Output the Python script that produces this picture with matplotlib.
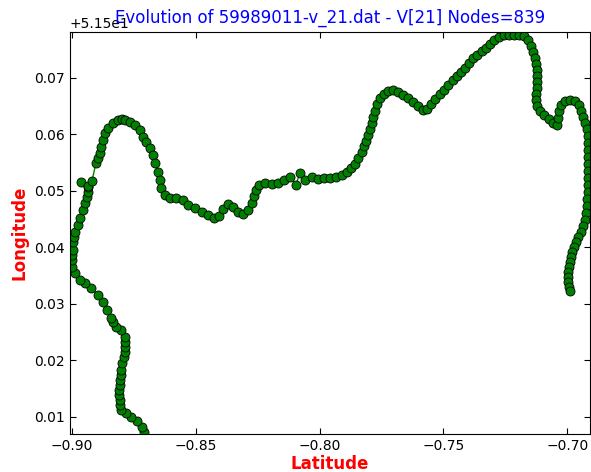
import matplotlib
matplotlib.use('Agg')
import matplotlib.pyplot as plt
from matplotlib.ticker import ScalarFormatter

# node positions of the trace (in path order)
lat = [
    -0.8710, -0.8718, -0.8738, -0.8763, -0.8783, -0.8803, -0.8807, -0.8807,
    -0.8811, -0.8811, -0.8807, -0.8807, -0.8803, -0.8803, -0.8799, -0.8791,
    -0.8787, -0.8787, -0.8787, -0.8787, -0.8803, -0.8823, -0.8835, -0.8844,
    -0.8860, -0.8876, -0.8896, -0.8924, -0.8949, -0.8969, -0.8989, -0.9001,
    -0.9001, -0.9001, -0.8997, -0.8997, -0.8993, -0.8989, -0.8977, -0.8969,
    -0.8957, -0.8949, -0.8941, -0.8937, -0.8937, -0.8965, -0.8937, -0.8920,
    -0.8904, -0.8896, -0.8888, -0.8884, -0.8876, -0.8868, -0.8856, -0.8835,
    -0.8815, -0.8799, -0.8787, -0.8767, -0.8747, -0.8726, -0.8714, -0.8702,
    -0.8686, -0.8674, -0.8666, -0.8654, -0.8646, -0.8641, -0.8625, -0.8605,
    -0.8581, -0.8553, -0.8532, -0.8504, -0.8476, -0.8452, -0.8427, -0.8407,
    -0.8391, -0.8371, -0.8350, -0.8330, -0.8310, -0.8290, -0.8274, -0.8266,
    -0.8258, -0.8245, -0.8221, -0.8193, -0.8169, -0.8144, -0.8120, -0.8096,
    -0.8080, -0.8059, -0.8031, -0.8007, -0.7983, -0.7958, -0.7934, -0.7910,
    -0.7890, -0.7874, -0.7857, -0.7845, -0.7829, -0.7821, -0.7813, -0.7805,
    -0.7797, -0.7789, -0.7785, -0.7777, -0.7768, -0.7756, -0.7740, -0.7724,
    -0.7704, -0.7684, -0.7663, -0.7643, -0.7623, -0.7603, -0.7582, -0.7566,
    -0.7550, -0.7534, -0.7514, -0.7498, -0.7481, -0.7461, -0.7445, -0.7429,
    -0.7413, -0.7397, -0.7380, -0.7364, -0.7344, -0.7328, -0.7312, -0.7296,
    -0.7275, -0.7255, -0.7235, -0.7215, -0.7194, -0.7174, -0.7158, -0.7146,
    -0.7138, -0.7130, -0.7126, -0.7122, -0.7122, -0.7122, -0.7122, -0.7126,
    -0.7126, -0.7122, -0.7110, -0.7093, -0.7073, -0.7057, -0.7041, -0.7037,
    -0.7033, -0.7025, -0.7008, -0.6988, -0.6968, -0.6952, -0.6944, -0.6936,
    -0.6928, -0.6920, -0.6916, -0.6916, -0.6916, -0.6916, -0.6916, -0.6916,
    -0.6916, -0.6916, -0.6916, -0.6920, -0.6920, -0.6924, -0.6928, -0.6936,
    -0.6944, -0.6956, -0.6964, -0.6972, -0.6980, -0.6984, -0.6988, -0.6992,
    -0.6996, -0.6996, -0.6996, -0.6992, -0.6988,
]
lon = [
    51.50729, 51.50818, 51.50924, 51.50995, 51.51065, 51.51119, 51.51207, 51.51296,
    51.51384, 51.51473, 51.51561, 51.51650, 51.51738, 51.51827, 51.51950, 51.52057,
    51.52145, 51.52234, 51.52322, 51.52411, 51.52535, 51.52588, 51.52676, 51.52747,
    51.52888, 51.53030, 51.53154, 51.53278, 51.53366, 51.53419, 51.53543, 51.53650,
    51.53773, 51.53862, 51.53950, 51.54092, 51.54181, 51.54269, 51.54393, 51.54517,
    51.54658, 51.54782, 51.54888, 51.54977, 51.55065, 51.55154, 51.55083, 51.55172,
    51.55490, 51.55579, 51.55667, 51.55773, 51.55897, 51.56021, 51.56110, 51.56198,
    51.56251, 51.56269, 51.56251, 51.56216, 51.56163, 51.56074, 51.55950, 51.55862,
    51.55756, 51.55632, 51.55490, 51.55331, 51.55189, 51.55048, 51.54924, 51.54871,
    51.54871, 51.54835, 51.54747, 51.54694, 51.54623, 51.54570, 51.54517, 51.54552,
    51.54676, 51.54765, 51.54712, 51.54623, 51.54588, 51.54658, 51.54782, 51.54906,
    51.55012, 51.55101, 51.55136, 51.55119, 51.55136, 51.55189, 51.55242, 51.55101,
    51.55313, 51.55189, 51.55242, 51.55207, 51.55225, 51.55225, 51.55242, 51.55278,
    51.55331, 51.55402, 51.55473, 51.55579, 51.55685, 51.55791, 51.55880, 51.55986,
    51.56092, 51.56198, 51.56304, 51.56411, 51.56535, 51.56641, 51.56712, 51.56765,
    51.56782, 51.56747, 51.56694, 51.56641, 51.56570, 51.56499, 51.56428, 51.56446,
    51.56535, 51.56623, 51.56712, 51.56782, 51.56871, 51.56959, 51.57030, 51.57101,
    51.57172, 51.57260, 51.57349, 51.57402, 51.57473, 51.57526, 51.57596, 51.57667,
    51.57720, 51.57756, 51.57756, 51.57756, 51.57756, 51.57738, 51.57667, 51.57561,
    51.57455, 51.57349, 51.57242, 51.57136, 51.57030, 51.56924, 51.56818, 51.56712,
    51.56605, 51.56499, 51.56411, 51.56340, 51.56269, 51.56198, 51.56163, 51.56287,
    51.56411, 51.56517, 51.56588, 51.56605, 51.56588, 51.56517, 51.56411, 51.56304,
    51.56198, 51.56092, 51.55968, 51.55844, 51.55720, 51.55596, 51.55473, 51.55349,
    51.55225, 51.55101, 51.54977, 51.54853, 51.54729, 51.54605, 51.54481, 51.54375,
    51.54269, 51.54181, 51.54092, 51.54004, 51.53915, 51.53827, 51.53738, 51.53650,
    51.53561, 51.53473, 51.53384, 51.53296, 51.53225,
]

fig = plt.figure(figsize=(5.91, 4.72), dpi=100)
ax = fig.add_axes([0.1184, 0.0799, 0.8799, 0.8529])

ax.plot(lat, lon, color='green', linewidth=1, marker='o', markersize=6.5,
        markerfacecolor='green', markeredgecolor='black', markeredgewidth=0.6)

ax.set_xlim(-0.9009, -0.6908)
ax.set_ylim(51.50689, 51.57810)
ax.set_xticks([-0.90, -0.85, -0.80, -0.75, -0.70])
ax.set_yticks([51.51, 51.52, 51.53, 51.54, 51.55, 51.56, 51.57])
ax.yaxis.set_major_formatter(ScalarFormatter(useOffset=51.5))
ax.yaxis.get_offset_text().set_fontsize(10)
ax.tick_params(direction='in', top=True, right=True, length=4, labelsize=10)

# explicit y keeps the title low, overlapping the offset text as in the original
ax.set_title('Evolution of 59989011-v_21.dat - V[21] Nodes=839', color='blue',
             fontsize=12, y=1.022, pad=0)
ax.set_xlabel('Latitude', color='red', fontweight='bold', fontsize=12, labelpad=1)
ax.set_ylabel('Longitude', color='red', fontweight='bold', fontsize=12)

fig.savefig('out.png', dpi=100)
